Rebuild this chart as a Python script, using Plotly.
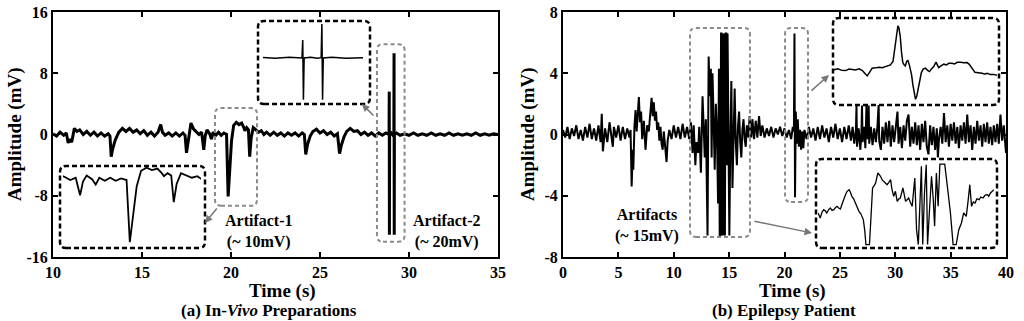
import plotly.graph_objects as go

FONT = "Liberation Serif"
W, H = 1024, 321

# (a) in-vivo recording: (time s, amplitude mV)
invivo_signal = [
    (10.0, 0.1), (10.2, -0.2), (10.4, 0.3), (10.6, -0.1), (10.75, 0.2), (10.85, -1.1), (10.95, -0.6),
    (11.05, -1.0), (11.2, 0.8), (11.35, 0.4), (11.5, 0.6), (11.7, 0.0), (11.9, 0.4), (12.1, -0.1),
    (12.3, 0.3), (12.5, -0.2), (12.7, 0.2), (12.9, -0.2), (13.1, 0.1), (13.2, -0.2), (13.27, -2.9),
    (13.35, -1.9), (13.5, -0.7), (13.7, 0.3), (13.9, 0.8), (14.1, 0.4), (14.3, 0.8), (14.5, 0.3),
    (14.7, 0.6), (14.9, 0.1), (15.1, 0.5), (15.3, -0.1), (15.5, 0.3), (15.7, -0.2), (15.9, 0.3),
    (16.05, 1.3), (16.15, 0.3), (16.3, -0.1), (16.5, 0.2), (16.7, -0.2), (16.9, 0.2), (17.1, -0.2),
    (17.3, 0.2), (17.42, -0.1), (17.5, -2.4), (17.6, -0.6), (17.75, 1.5), (17.9, 0.7), (18.05, 0.4),
    (18.2, 0.0), (18.35, 0.3), (18.47, -2.0), (18.55, -0.2), (18.65, 0.6), (18.8, 0.1), (18.9, -0.6),
    (19.0, 0.3), (19.15, -0.1), (19.3, 0.3), (19.45, -0.1), (19.6, 0.2), (19.75, 0.0), (19.84, -8.1),
    (19.93, -4.5), (20.03, -0.8), (20.15, 1.2), (20.3, 1.6), (20.45, 1.3), (20.6, 1.5), (20.72, 0.9),
    (20.78, 0.5), (20.88, 0.9), (20.98, 0.6), (21.05, -2.9), (21.13, -0.5), (21.25, 0.9), (21.4, 0.6),
    (21.55, 0.3), (21.7, 0.5), (21.85, 0.0), (22.0, 0.3), (22.2, -0.1), (22.4, 0.3), (22.6, -0.1),
    (22.8, 0.2), (23.0, -0.2), (23.2, 0.2), (23.4, -0.1), (23.6, 0.2), (23.8, -0.2), (24.0, 0.2),
    (24.12, 0.0), (24.2, -2.6), (24.3, -1.3), (24.45, -0.2), (24.6, 0.4), (24.8, 0.7), (25.0, 0.2),
    (25.2, 0.5), (25.4, 0.0), (25.6, 0.3), (25.8, -0.2), (25.98, 0.1), (26.1, -2.5), (26.2, -1.4),
    (26.35, -0.3), (26.5, 0.4), (26.7, 0.8), (26.9, 0.4), (27.1, 0.5), (27.3, 0.0), (27.5, 0.3),
    (27.7, -0.1), (27.9, 0.2), (28.1, -0.2), (28.3, 0.2), (28.5, -0.1), (28.7, 0.2), (28.88, 0.0),
    (28.89, 5.6), (28.90, -13.1), (28.91, 0.0), (29.0, 0.2), (29.1, -0.1), (29.15, 0.1), (29.16, 10.6),
    (29.17, -13.1), (29.18, 0.0), (29.3, 0.2), (29.5, -0.1), (29.75, 0.1), (30.0, -0.1), (30.25, 0.2),
    (30.5, -0.1), (30.75, 0.1), (31.0, -0.1), (31.25, 0.2), (31.5, -0.1), (31.75, 0.1), (32.0, -0.1),
    (32.25, 0.2), (32.5, -0.1), (32.75, 0.1), (33.0, -0.1), (33.25, 0.1), (33.5, -0.1), (33.75, 0.2),
    (34.0, -0.1), (34.25, 0.1), (34.5, -0.1), (34.75, 0.1), (35.0, 0.0),
]

# (b) epilepsy patient recording: (time s, amplitude mV)
patient_signal = [
    (0.0, 0.3), (0.2, -0.2), (0.4, 0.5), (0.6, -0.3), (0.8, 0.4), (1.0, -0.1), (1.2, 0.6), (1.4, -0.3),
    (1.6, 0.3), (1.8, -0.4), (2.0, 0.5), (2.2, -0.2), (2.4, 0.7), (2.6, -0.3), (2.8, 0.4), (3.0, -0.4),
    (3.2, 0.6), (3.4, -0.5), (3.5, 1.35), (3.6, -1.1), (3.8, 0.4), (4.0, -0.5), (4.2, 0.8), (4.4, -0.3),
    (4.5, -0.8), (4.6, 0.5), (4.8, -0.2), (5.0, 0.6), (5.2, -0.4), (5.4, 0.5), (5.6, -0.3), (5.8, 0.4),
    (6.0, -0.2), (6.1, 0.3), (6.2, -3.4), (6.3, -1.0), (6.35, -2.3), (6.45, 0.5), (6.55, 1.6),
    (6.65, 0.2), (6.75, 1.8), (6.85, 2.45), (6.95, 0.8), (7.05, 1.5), (7.15, -0.3), (7.3, 0.9),
    (7.45, -1.0), (7.6, 0.6), (7.75, 0.2), (7.9, 1.6), (8.0, 2.4), (8.1, 1.2), (8.2, 2.1), (8.3, 0.9),
    (8.4, 1.5), (8.5, 0.3), (8.6, 0.8), (8.7, -0.4), (8.8, 0.5), (8.9, -0.6), (9.0, -1.0), (9.1, 0.2),
    (9.2, -0.8), (9.35, -1.8), (9.45, -0.4), (9.6, 0.3), (9.8, -0.3), (10.0, 0.6), (10.2, -0.2),
    (10.4, 0.5), (10.6, -0.3), (10.8, 0.7), (11.0, -0.2), (11.2, 0.5), (11.4, -0.3), (11.55, 0.8),
    (11.7, -1.2), (11.8, 0.6), (11.95, -2.0), (12.05, -0.5), (12.2, -1.2), (12.3, 0.5), (12.45, -2.5),
    (12.6, 2.5), (12.7, 0.5), (12.8, -1.5), (12.9, 1.0), (13.0, -6.6), (13.05, -6.6), (13.15, 5.1),
    (13.25, 2.5), (13.35, 4.3), (13.42, -1.5), (13.5, 4.0), (13.6, 1.0), (13.7, -2.3), (13.8, 2.0),
    (13.9, 0.2), (14.0, -4.5), (14.08, 4.3), (14.15, -6.6), (14.2, -6.6), (14.27, 6.6), (14.32, 6.6),
    (14.38, -6.6), (14.45, 6.6), (14.52, -6.6), (14.58, 6.6), (14.62, -6.6), (14.67, 6.6), (14.75, 6.6),
    (14.8, -2.0), (14.86, 6.6), (14.9, 2.0), (14.98, -6.6), (15.02, -6.6), (15.1, -1.0), (15.2, 3.5),
    (15.3, -3.5), (15.4, 1.0), (15.5, 3.0), (15.6, -0.5), (15.7, -2.0), (15.8, 0.5), (15.9, 1.5),
    (16.0, -0.5), (16.1, -1.5), (16.2, 0.3), (16.3, 1.0), (16.4, -0.3), (16.5, -0.8), (16.6, 0.6),
    (16.75, -0.2), (16.85, 1.2), (17.0, -0.2), (17.1, 1.0), (17.25, -0.3), (17.4, 0.9), (17.55, -0.2),
    (17.7, 1.2), (17.85, -0.1), (18.0, 0.6), (18.2, -0.2), (18.4, 0.4), (18.6, -0.1), (18.8, 0.5),
    (19.0, -0.2), (19.2, 0.4), (19.4, 0.0), (19.6, 0.5), (19.8, -0.1), (20.0, 0.4), (20.2, -0.2),
    (20.4, 0.3), (20.6, -0.3), (20.75, 0.5), (20.85, 0.2), (20.9, 6.6), (20.95, -4.1), (21.02, 1.5),
    (21.1, -0.6), (21.2, 1.0), (21.3, -0.8), (21.4, 0.3), (21.5, -1.0), (21.6, 0.2), (21.7, -0.9),
    (21.8, 0.3), (22.0, -0.3), (22.2, 0.5), (22.4, -0.2), (22.6, 0.4), (22.8, -0.4), (23.0, 0.5),
    (23.2, -0.3), (23.4, 0.6), (23.6, -0.2), (23.8, 0.4), (24.0, -0.5), (24.2, 0.5), (24.4, -0.2),
    (24.6, 0.7), (24.8, -0.3), (25.0, 0.4), (25.2, -0.5), (25.4, 0.5), (25.6, -0.3), (25.8, 0.6),
    (26.0, -0.4), (26.15, 0.5), (26.3, -0.6), (26.45, 0.3), (26.5, 1.9), (26.55, -0.8), (26.7, 0.4),
    (26.85, -1.0), (26.95, 0.2), (27.0, 1.9), (27.05, -0.5), (27.2, 0.5), (27.3, -0.9), (27.4, 1.9),
    (27.45, -0.3), (27.55, 0.2), (27.6, 1.9), (27.65, -0.6), (27.8, 0.5), (27.95, -0.7), (28.1, 0.4),
    (28.25, -0.5), (28.4, 0.6), (28.5, 2.0), (28.55, -0.4), (28.7, -1.0), (28.85, 0.5),
    (29.0, -0.6), (29.15, 0.8), (29.3, -0.5), (29.45, 0.9), (29.6, -0.8),
    (29.75, 0.6), (29.9, -0.5), (30.05, 0.7), (30.2, 1.5), (30.3, -0.6), (30.45, 0.5), (30.6, -0.9),
    (30.75, 0.6), (30.9, -0.4), (31.05, 0.9), (31.2, 1.3), (31.35, -0.8), (31.5, 0.5), (31.65, -0.6),
    (31.8, 0.8), (31.95, -0.7), (32.1, 0.6), (32.25, -1.0), (32.4, 0.7), (32.55, -0.5), (32.7, 0.9),
    (32.85, -0.8), (33.0, -1.3), (33.15, 0.6), (33.3, -0.7), (33.45, 0.5), (33.6, -1.0), (33.75, 0.4),
    (33.85, -1.5), (33.95, -0.3), (34.1, 0.5), (34.25, -0.6), (34.4, 1.4), (34.55, -0.5), (34.7, 0.6),
    (34.85, -0.8), (35.0, 0.7), (35.15, -0.4), (35.3, 0.8), (35.45, -0.6), (35.6, 0.5), (35.75, -0.9),
    (35.9, 0.6), (36.05, -0.4), (36.2, 0.8), (36.35, -0.6), (36.5, 1.3), (36.65, -0.5), (36.8, 0.6),
    (36.95, -1.0), (37.1, 0.5), (37.25, -0.6), (37.4, 0.9), (37.55, -0.4), (37.7, 0.6), (37.85, -0.8),
    (38.0, 0.7), (38.15, -0.5), (38.3, 0.8), (38.45, -0.6), (38.6, 0.5), (38.75, -0.7), (38.9, 0.6),
    (39.05, -0.5), (39.2, 0.7), (39.35, -0.6), (39.5, 1.3), (39.65, -0.4), (39.8, 0.6), (39.9, -0.5),
    (40.0, -1.2),
]

# (b) upper inset: close-up of the spike near 21 s (time ms, relative mV)
patient_spike_zoom = [
    (0, 0.0), (12, 0.1), (24, -0.05), (36, -0.07), (46, 0.08), (56, 0.07), (66, 0.0), (77, 0.1),
    (87, -0.07), (95, -0.35), (102, -0.6), (110, -0.2), (117, 0.17), (127, 0.2), (138, 0.27),
    (148, 0.22), (158, 0.33), (166, 0.4), (173, 0.5), (181, 0.83), (185, 1.8), (189, 3.17), (193, 4.2),
    (196, 4.4), (199, 4.2), (203, 3.4), (207, 1.8), (211, 0.73), (215, 0.5), (219, 0.4), (223, 0.85),
    (227, 0.93), (231, 0.5), (234, 0.17), (238, -0.5), (242, -1.5), (246, -2.4), (250, -2.93),
    (254, -2.6), (258, -1.83), (263, -0.9), (268, -0.27), (274, 0.1), (281, 0.17), (287, -0.05),
    (293, -0.17), (299, 0.1), (306, 0.33), (310, 0.6), (313, 0.77), (317, 0.5), (321, 0.23), (328, 0.4),
    (337, 0.57), (345, 0.5), (352, 0.65), (362, 0.67), (370, 0.6), (378, 0.75), (388, 0.77), (398, 0.7),
    (408, 0.73), (415, 0.55), (421, 0.33), (427, 0.0), (432, -0.23), (440, -0.25), (447, -0.3),
    (454, -0.33), (462, -0.4), (470, -0.35), (480, -0.47), (490, -0.45), (500, -0.53),
]

# (b) lower inset: close-up of the artifact burst (time s, mV)
patient_artifact_zoom = [
    (12.0, -1.42), (12.05, -2.24), (12.09, -1.3), (12.13, -0.87), (12.17, -1.1), (12.2, -1.42),
    (12.24, -0.9), (12.28, -0.6), (12.32, -1.0), (12.36, -0.87), (12.4, -0.5), (12.43, -0.33),
    (12.47, -0.6), (12.51, -0.77), (12.55, 0.1), (12.58, 0.77), (12.62, 1.5), (12.66, 2.13),
    (12.71, 2.4), (12.74, 1.9), (12.77, 1.31), (12.81, 0.9), (12.85, 0.22), (12.89, -0.4),
    (12.93, -1.15), (12.97, -1.5), (13.0, -1.97), (13.03, -2.5), (13.06, -4.15), (13.09, -6.6),
    (13.17, -6.6), (13.21, -1.97), (13.24, 2.68), (13.28, 3.1), (13.31, 3.5), (13.36, 5.14),
    (13.42, 4.59), (13.46, 4.0), (13.5, 3.77), (13.54, 3.4), (13.57, 3.22), (13.61, 3.6),
    (13.65, 4.04), (13.68, 2.5), (13.72, 1.31), (13.76, 2.13), (13.8, 0.49), (13.84, 0.9),
    (13.87, 1.04), (13.93, 2.68), (13.99, 0.49), (14.03, 0.8), (14.06, 1.04), (14.1, 0.3),
    (14.14, -0.33), (14.2, 4.32), (14.24, -4.15), (14.28, -6.6), (14.31, -0.33), (14.35, 6.23),
    (14.38, -6.6), (14.42, 1.86), (14.46, 6.5), (14.49, -6.6), (14.53, -1.42), (14.58, 4.59),
    (14.62, 0.77), (14.65, -3.61), (14.69, 5.14), (14.73, -0.33), (14.77, 6.6), (14.88, 6.6),
    (14.94, 2.95), (15.01, -1.42), (15.07, -6.6), (15.14, -6.6), (15.2, -4.15), (15.26, -3.06),
    (15.31, -1.42), (15.37, -1.97), (15.41, 0.49), (15.45, 3.22), (15.49, -0.33), (15.53, 0.4),
    (15.57, 0.22), (15.61, 0.9), (15.66, 0.77), (15.7, 1.2), (15.75, 1.04), (15.8, 1.5),
    (15.85, 1.58), (15.88, 1.3), (15.92, 1.86), (15.96, 2.1), (16.0, 2.4),
]

invivo_xticks = [10, 15, 20, 25, 30, 35]
invivo_yticks = [-16, -8, 0, 8, 16]
invivo_yticktext = ["-16", "-8", "0", "8", "16"]
patient_xticks = [0, 5, 10, 15, 20, 25, 30, 35, 40]
patient_yticks = [-8, -4, 0, 4, 8]
patient_yticktext = ["-8", "-4", "0", "4", "8"]


def px(x):
    # window pixel -> paper fraction
    return x / W


def py(y):
    return 1 - y / H


def rounded_path(x0, x1, y0, y1, rx, ry):
    # rectangle with quadratic corners, works in data or paper units
    return (f"M{x0 + rx},{y0} L{x1 - rx},{y0} Q{x1},{y0} {x1},{y0 + ry} "
            f"L{x1},{y1 - ry} Q{x1},{y1} {x1 - rx},{y1} L{x0 + rx},{y1} "
            f"Q{x0},{y1} {x0},{y1 - ry} L{x0},{y0 + ry} Q{x0},{y0} {x0 + rx},{y0} Z")


def main_axis(domain, rng, ticks, ticktext=None):
    ax = dict(domain=domain, range=rng, tickvals=ticks, showline=True, linecolor="black",
              linewidth=2, mirror="ticks", ticks="inside", ticklen=5, tickwidth=1.5,
              tickcolor="black", showgrid=False, zeroline=False, automargin=False,
              ticklabeloverflow="allow",
              tickfont=dict(family=FONT, size=16, color="black", weight="bold"))
    if ticktext:
        ax["ticktext"] = ticktext
    return ax


def hidden_axis(domain, rng, anchor):
    return dict(domain=domain, range=rng, visible=False, anchor=anchor, showgrid=False,
                zeroline=False, automargin=False)


fig = go.Figure()

inv_t = [p[0] for p in invivo_signal]
inv_v = [p[1] for p in invivo_signal]
pat_t = [p[0] for p in patient_signal]
pat_v = [p[1] for p in patient_signal]

fig.add_trace(go.Scatter(x=inv_t, y=inv_v, mode="lines", line=dict(color="black", width=3),
                         xaxis="x", yaxis="y"))
fig.add_trace(go.Scatter(x=pat_t, y=pat_v, mode="lines", line=dict(color="black", width=2),
                         xaxis="x2", yaxis="y2"))
# insets of (a) reuse the same recording with zoomed ranges
fig.add_trace(go.Scatter(x=inv_t, y=inv_v, mode="lines", line=dict(color="black", width=1.8),
                         xaxis="x3", yaxis="y3"))
fig.add_trace(go.Scatter(x=inv_t, y=inv_v, mode="lines", line=dict(color="black", width=1.5),
                         xaxis="x4", yaxis="y4"))
fig.add_trace(go.Scatter(x=[p[0] for p in patient_spike_zoom], y=[p[1] for p in patient_spike_zoom],
                         mode="lines", line=dict(color="black", width=1.5), xaxis="x5", yaxis="y5"))
fig.add_trace(go.Scatter(x=[p[0] for p in patient_artifact_zoom], y=[p[1] for p in patient_artifact_zoom],
                         mode="lines", line=dict(color="black", width=1.3), xaxis="x6", yaxis="y6"))

ydom = [py(257), py(12)]
fig.update_layout(
    width=W, height=H, margin=dict(l=0, r=0, t=0, b=0, pad=0, autoexpand=False),
    paper_bgcolor="white", plot_bgcolor="white", showlegend=False,
    xaxis=dict(main_axis([px(53), px(498)], [10, 35], invivo_xticks), anchor="y"),
    yaxis=dict(main_axis(ydom, [-16, 16], invivo_yticks, invivo_yticktext), anchor="x"),
    xaxis2=dict(main_axis([px(563), px(1006)], [0, 40], patient_xticks), anchor="y2"),
    yaxis2=dict(main_axis(ydom, [-8, 8], patient_yticks, patient_yticktext), anchor="x2"),
    xaxis3=hidden_axis([px(63), px(201)], [18.0, 21.8], "y3"),
    yaxis3=hidden_axis([py(247), py(166)], [-8.75, 1.83], "x3"),
    xaxis4=hidden_axis([px(263), px(363)], [28.33, 29.74], "y4"),
    yaxis4=hidden_axis([py(104), py(22)], [-14.4, 11.25], "x4"),
    xaxis5=hidden_axis([px(834), px(997)], [0, 500], "y5"),
    yaxis5=hidden_axis([py(105), py(18)], [-3.5, 5.17], "x5"),
    xaxis6=hidden_axis([px(818), px(994)], [12, 16], "y6"),
    yaxis6=hidden_axis([py(248), py(159)], [-7.16, 7.43], "x6"),
)

shapes = []
gray = "#8a8a8a"
# gray highlight boxes around the artifacts (data coordinates)
for ax, (x0, x1, y0, y1, rx, ry) in [
    ("", (19.1, 21.46, -9.3, 3.46, 0.34, 0.78)),
    ("", (28.2, 29.75, -14.0, 11.8, 0.34, 0.78)),
    ("2", (11.47, 16.88, -6.69, 6.96, 0.54, 0.39)),
    ("2", (20.05, 22.12, -4.41, 6.96, 0.54, 0.39)),
]:
    shapes.append(dict(type="path", path=rounded_path(x0, x1, y0, y1, rx, ry),
                       xref="x" + ax, yref="y" + ax,
                       line=dict(color=gray, width=2, dash="4px,3px")))

# black inset frames (paper coordinates, from pixel positions)
for (l, r, t, b) in [(60, 205, 166, 248), (258, 370, 21, 104), (833, 999, 18, 105), (816, 997, 159, 248)]:
    shapes.append(dict(type="path", path=rounded_path(px(l), px(r), py(b), py(t), 6 / W, 6 / H),
                       xref="paper", yref="paper",
                       line=dict(color="black", width=2.5, dash="5px,3px")))
fig.update_layout(shapes=shapes)


def text(x, y, s, size, angle=0):
    fig.add_annotation(x=px(x), y=py(y), xref="paper", yref="paper", text=s, showarrow=False,
                       textangle=angle, xanchor="center", yanchor="middle",
                       font=dict(family=FONT, size=size, color="black"))


def arrow(tail, head):
    fig.add_annotation(x=px(head[0]), y=py(head[1]), xref="paper", yref="paper", text="",
                       showarrow=True, ax=tail[0] - head[0], ay=tail[1] - head[1],
                       arrowhead=2, arrowsize=1, arrowwidth=1.5, arrowcolor="#777777")


text(15, 134, "<b>Amplitude (mV)</b>", 19, -90)
text(528, 134, "<b>Amplitude (mV)</b>", 19, -90)
text(282, 291, "<b>Time (s)</b>", 19)
text(792, 291, "<b>Time (s)</b>", 19)
text(269, 310, "<b>(a) In-<i>Vivo</i> Preparations</b>", 17)
text(784, 310, "<b>(b) Epilepsy Patient</b>", 17)
text(259, 231, "<b>Artifact-1</b><br><b>(~ 10mV)</b>", 16)
text(447, 231, "<b>Artifact-2</b><br><b>(~ 20mV)</b>", 16)
text(647, 225, "<b>Artifacts</b><br><b>(~ 15mV)</b>", 16)

arrow((218, 207), (205, 223))
arrow((375, 117), (362, 104))
arrow((810, 92), (829, 75))
arrow((753, 221), (812, 233))

# drop the default page margin so the figure fills the window exactly
fig.write_html("out.html", config={"displayModeBar": False},
               post_script="document.body.style.margin = '0';")
